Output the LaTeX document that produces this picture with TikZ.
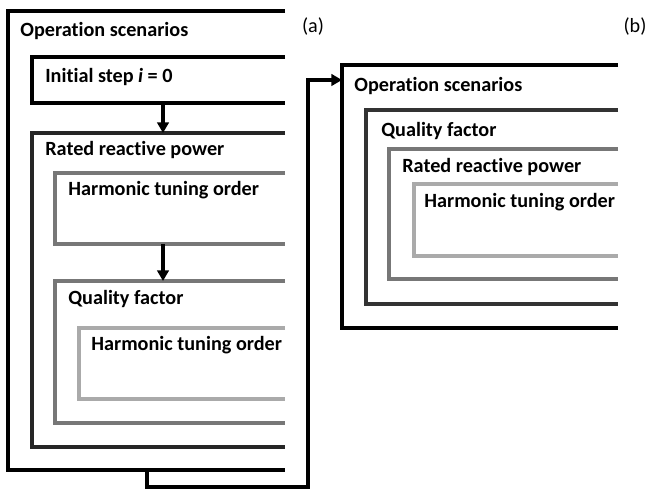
\documentclass[tikz,border=0pt]{standalone}
\usepackage{fontspec}
\setmainfont{Carlito}[RawFeature=-liga]
\usetikzlibrary{arrows.meta}
\usetikzlibrary{positioning}
\definecolor{darkline}{HTML}{262626}
\definecolor{midline}{HTML}{777777}
\definecolor{lightline}{HTML}{AAAAAA}
\tikzstyle{boxtitle} = [anchor=base west, inner sep=0pt, font=\fontsize{11.5}{13}\selectfont\bfseries]
\tikzstyle{tag} = [anchor=base, inner sep=0pt, font=\fontsize{11.5}{13}\selectfont]
\tikzstyle{frame} = [line width=2pt, line join=miter]
\tikzstyle{flow} = [line width=2pt, -{Triangle[length=6pt,width=6.5pt]}]

\begin{document}
\begin{tikzpicture}[x=0.02cm, y=-0.02cm]
 \useasboundingbox (0,0) rectangle (646,489);

 % (a) nested loops, sequential
 \draw [frame, black] (285,11) -| (8,470) -- (285,470);
 \node (opA) [boxtitle] at (20,37) {Operation scenarios};
 \draw [frame, black] (285,57) -| (32,103) -- (285,103);
 \node (initA) [boxtitle] at (45,83) {Initial step \textit{i} = 0};
 \draw [frame, darkline] (285,133) -| (32,447) -- (285,447);
 \node (ratedA) [boxtitle] at (45,156) {Rated reactive power};
 \draw [frame, midline] (285,173) -| (55,244) -- (285,244);
 \node (harmA) [boxtitle] at (68,196) {Harmonic tuning order};
 \draw [frame, midline] (285,281) -| (55,423) -- (285,423);
 \node (qualA) [boxtitle] at (68,305) {Quality factor};
 \draw [frame, lightline] (285,328) -| (79,399) -- (285,399);
 \node (harmAA) [boxtitle] at (91,351) {Harmonic tuning order};

 \coordinate (initOut) at (163,103);
 \coordinate (ratedIn) at (163,133);
 \coordinate (harmOut) at (163,244);
 \coordinate (qualIn) at (163,281);
 \draw [flow] (initOut) -- (ratedIn);
 \draw [flow] (harmOut) -- (qualIn);

 % (b) nested loops, reordered
 \draw [frame, black] (618,65) -| (342,328) -- (618,328);
 \node (opB) [boxtitle] at (354,92) {Operation scenarios};
 \draw [frame, black!80] (618,110) -| (366,304) -- (618,304);
 \node (qualB) [boxtitle] at (381,137) {Quality factor};
 \draw [frame, midline] (618,149) -| (389,279) -- (618,279);
 \node (ratedB) [boxtitle] at (402,173) {Rated reactive power};
 \draw [frame, lightline] (618,184) -| (414,256) -- (618,256);
 \node (harmB) [boxtitle] at (424,208) {Harmonic tuning order};

 % link from (a) to (b)
 \coordinate (loopOut) at (147,470);
 \coordinate (loopIn) at (342,80);
 \draw [flow] (loopOut) -- (147,487) -| (308,80) -- (loopIn);

 \node (tagA) [tag] at (313,33) {(a)};
 \node (tagB) [tag] at (635,33) {(b)};
\end{tikzpicture}
\end{document}
